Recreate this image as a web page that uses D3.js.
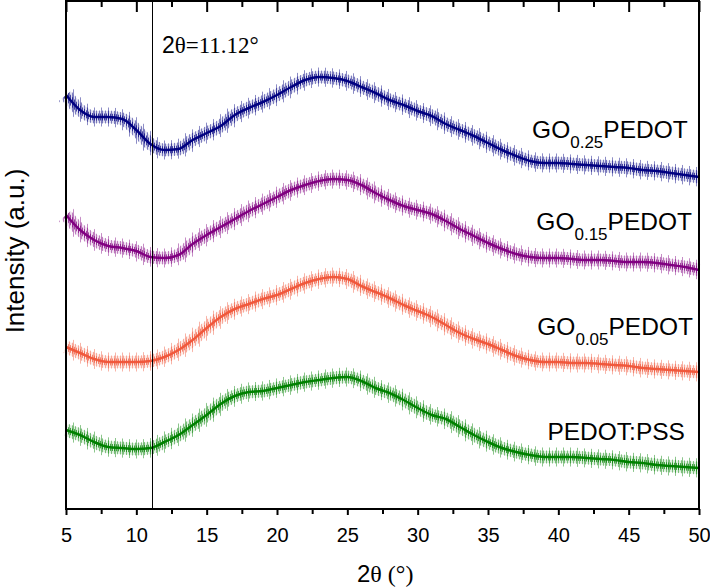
<!DOCTYPE html>
<html>
<head>
<meta charset="utf-8">
<script src="https://cdn.jsdelivr.net/npm/d3@7/dist/d3.min.js"></script>
<style>
  body { margin: 0; background: #fff; }
  text { font-family: "Liberation Sans", Arial, sans-serif; fill: #000; }
  .serif { font-family: "Liberation Serif", "Times New Roman", serif; }
</style>
</head>
<body>
<div id="chart"></div>
<script>
// XRD patterns, 2θ in degrees, intensity in arbitrary units (stacked, offset)
const twoTheta = [5,6,7,8,9,10,11,12,13,14,15,16,17,18,19,20,21,22,23,24,25,26,27,28,29,30,
                  31,32,33,34,35,36,37,38,39,40,41,42,43,44,45,46,47,48,49,50];

const go25 = [414,399,392,392,390,379,365,359,360,369,376,383,394,401,407,414,422,429,432,431,428,422,
              416,409,404,398,393,385,379,373,366,359,353,348,346,346,345,344,343,342,341,339,338,336,334,332];
const go15 = [294,279,269,263,261,258,252,251,254,265,274,282,290,298,305,312,319,324,328,330,329,324,
              316,309,303,299,295,288,280,273,266,260,255,252,251,251,250,249,249,248,247,247,246,244,242,239];
const go05 = [162,156,150,147,147,147,148,152,159,169,181,192,200,205,210,214,220,226,230,232,230,223,
              217,211,204,198,192,184,176,170,165,159,153,149,147,147,146,146,145,144,143,141,140,139,138,137];
const pedotPss = [79,74,67,62,61,60,61,67,74,84,94,105,113,117,118,121,124,127,129,131,132,128,
                  121,116,109,101,94,90,82,74,67,61,57,54,52,52,52,51,50,49,47,46,44,43,42,41];

const seriesValues = [go25, go15, go05, pedotPss];
const seriesColors = ['#000080', '#800080', '#f0583c', '#008000'];

// label text pieces: [main, subscript, tail]
const seriesLabels = [['GO', '0.25', 'PEDOT'], ['GO', '0.15', 'PEDOT'], ['GO', '0.05', 'PEDOT'], ['PEDOT:PSS', '', '']];
// label anchors (right edge / baseline) in data units
const labelAnchors = [{ x: 49.2, y: 371 }, { x: 49.5, y: 279 }, { x: 49.57, y: 174 }, { x: 49.0, y: 69 }];

const majorTicks = [5, 10, 15, 20, 25, 30, 35, 40, 45, 50];
const minorTicks = [7.5, 12.5, 17.5, 22.5, 27.5, 32.5, 37.5, 42.5, 47.5];
const markerTheta = 11.12;

const W = 710, H = 588;
const margin = { top: 1, right: 11, bottom: 79, left: 66 };
const iw = W - margin.left - margin.right;
const ih = H - margin.top - margin.bottom;

const svg = d3.select('#chart').append('svg')
  .attr('width', W).attr('height', H);

// layered vertical hatches (different periods and widths) stand in for scan noise
const bands = [
  { period: 7, width: 19, opacity: 0.45 },
  { period: 3, width: 13, opacity: 0.45 },
  { period: 2, width: 7,  opacity: 0.7 },
];
const defs = svg.append('defs');
seriesColors.forEach((c, k) => {
  bands.forEach((b, j) => {
    defs.append('pattern')
      .attr('id', `hatch-${k}-${j}`)
      .attr('patternUnits', 'userSpaceOnUse')
      .attr('width', b.period).attr('height', 8)
      .append('rect').attr('width', 1).attr('height', 8).attr('fill', c);
  });
});

const g = svg.append('g').attr('transform', `translate(${margin.left},${margin.top})`);

const x = d3.scaleLinear().domain([5, 50]).range([0, iw]);
const y = d3.scaleLinear().domain([0, 508]).range([ih, 0]);

const line = d3.line()
  .x((d, i) => x(twoTheta[i]))
  .y(d => y(d))
  .curve(d3.curveMonotoneX);

seriesValues.forEach((vals, k) => {
  const s = g.append('g').attr('fill', 'none');
  s.append('path').datum(vals).attr('d', line)
    .attr('stroke', seriesColors[k]).attr('stroke-opacity', 0.12).attr('stroke-width', 12);
  bands.forEach((b, j) => {
    s.append('path').datum(vals).attr('d', line)
      .attr('stroke', `url(#hatch-${k}-${j})`)
      .attr('stroke-opacity', b.opacity)
      .attr('stroke-width', b.width);
  });
  s.append('path').datum(vals).attr('d', line)
    .attr('stroke', seriesColors[k]).attr('stroke-width', 2.5);
});

// marker line at 2θ = 11.12°
const mx = Math.floor(x(markerTheta)) + 0.5;
g.append('line')
  .attr('x1', mx).attr('x2', mx)
  .attr('y1', 0).attr('y2', ih)
  .attr('stroke', '#000').attr('stroke-width', 1);

g.append('text')
  .attr('x', x(11.82)).attr('y', y(456))
  .attr('font-size', 23)
  .call(t => {
    t.append('tspan').text('2');
    t.append('tspan').attr('class', 'serif').text('θ=11.12°');
  });

// frame
g.append('rect')
  .attr('width', iw).attr('height', ih)
  .attr('fill', 'none').attr('stroke', '#000').attr('stroke-width', 2);

// bottom axis
const bottomAxis = g.append('g').attr('transform', `translate(0,${ih})`);
bottomAxis.call(d3.axisBottom(x).tickValues(majorTicks).tickSize(6).tickPadding(13).tickFormat(d3.format('d')))
  .call(a => a.select('.domain').remove())
  .call(a => a.selectAll('line').attr('stroke-width', 2))
  .call(a => a.selectAll('text').attr('font-size', 20).attr('font-family', '"Liberation Sans", Arial, sans-serif'));
bottomAxis.append('g')
  .call(d3.axisBottom(x).tickValues(minorTicks).tickSize(5).tickFormat(''))
  .call(a => a.select('.domain').remove())
  .call(a => a.selectAll('line').attr('stroke-width', 2));

// top axis, ticks pointing inward
const topAxis = g.append('g');
topAxis.call(d3.axisTop(x).tickValues(majorTicks).tickSize(-11).tickFormat(''))
  .call(a => a.select('.domain').remove())
  .call(a => a.selectAll('line').attr('stroke-width', 2));
topAxis.append('g')
  .call(d3.axisTop(x).tickValues(minorTicks).tickSize(-6).tickFormat(''))
  .call(a => a.select('.domain').remove())
  .call(a => a.selectAll('line').attr('stroke-width', 2));

// series labels
seriesLabels.forEach((parts, k) => {
  const t = g.append('text')
    .attr('x', x(labelAnchors[k].x)).attr('y', y(labelAnchors[k].y))
    .attr('text-anchor', 'end')
    .attr('font-size', 24.5);
  t.append('tspan').text(parts[0]);
  if (parts[1]) {
    t.append('tspan').attr('font-size', 17).attr('dy', 10).text(parts[1]);
    t.append('tspan').attr('dy', -10).text(parts[2]);
  }
});

// axis titles
svg.append('text')
  .attr('transform', 'translate(24,251) rotate(-90)')
  .attr('text-anchor', 'middle')
  .attr('font-size', 26)
  .text('Intensity (a.u.)');

svg.append('text')
  .attr('x', 357).attr('y', 582)
  .attr('font-size', 24)
  .call(t => {
    t.append('tspan').text('2');
    t.append('tspan').attr('class', 'serif').text('θ (°)');
  });
</script>
</body>
</html>
